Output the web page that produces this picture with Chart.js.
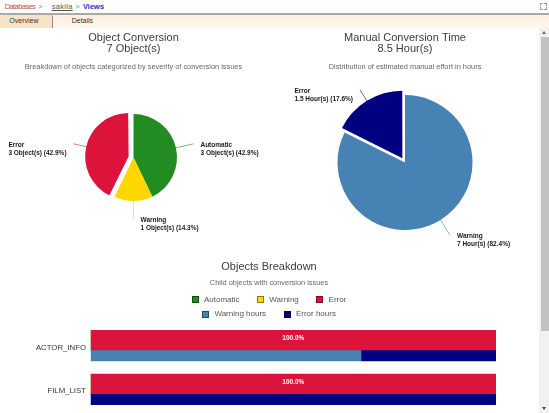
<!DOCTYPE html>
<html>
<head>
<meta charset="utf-8">
<script src="https://cdn.jsdelivr.net/npm/chart.js@4"></script>
<style>
html,body{margin:0;padding:0;width:549px;height:413px;overflow:hidden;background:#fff;font-family:"Liberation Sans",Arial,sans-serif;}
.abs{position:absolute;white-space:nowrap;}
.crumb{top:1.5px;font-size:7.5px;line-height:10px;}
#tline{left:0;top:13px;width:549px;height:2px;background:#a9a9a9;}
#tband{left:0;top:15px;width:549px;height:13px;background:linear-gradient(#fdeedd,#fef6ee);}
#tab1{left:0;top:15px;width:52px;height:13px;background:#f8e3c8;border-right:1px solid #8c8c8c;border-top-right-radius:3px;}
.tt{top:14.3px;height:13px;line-height:13px;font-size:7px;color:#333;}
canvas{position:absolute;}
#track{left:539px;top:28px;width:10px;height:385px;background:#f1f1f1;}
#thumb{left:540.5px;top:37px;width:8.5px;height:294px;background:#c1c1c1;}
.arrUp{left:542px;top:30.5px;width:0;height:0;border-left:2.5px solid transparent;border-right:2.5px solid transparent;border-bottom:3px solid #6a6a6a;}
.arrDn{left:542px;top:407px;width:0;height:0;border-left:2.5px solid transparent;border-right:2.5px solid transparent;border-top:3px solid #4a4a4a;}
.ic{width:2px;height:2px;border-color:#9a9a9a;border-style:solid;border-width:0;}
</style>
</head>
<body>
<div class="abs crumb" style="left:4.7px;color:#c0504d;letter-spacing:-0.6px">Databases</div>
<div class="abs crumb" style="left:38px;color:#888">&gt;</div>
<div class="abs crumb" style="left:51.7px;color:#555;text-decoration:underline;letter-spacing:0.3px">sakila</div>
<div class="abs crumb" style="left:75.5px;color:#888">&gt;</div>
<div class="abs crumb" style="left:83px;color:#2b2bd9;font-weight:bold">Views</div>
<div class="abs ic" style="left:540px;top:3px;border-left-width:1px;border-top-width:1px"></div>
<div class="abs ic" style="left:544px;top:3px;border-right-width:1px;border-top-width:1px"></div>
<div class="abs ic" style="left:540px;top:7px;border-left-width:1px;border-bottom-width:1px"></div>
<div class="abs ic" style="left:544px;top:7px;border-right-width:1px;border-bottom-width:1px"></div>
<div class="abs" id="tline"></div>
<div class="abs" id="tband"></div>
<div class="abs" id="tab1"></div>
<div class="abs tt" style="left:9.3px">Overview</div>
<div class="abs tt" style="left:71.7px">Details</div>

<canvas id="pieObj" width="269" height="227" style="left:0;top:28px;width:269px;height:227px"></canvas>
<canvas id="pieHrs" width="269" height="227" style="left:269px;top:28px;width:269px;height:227px"></canvas>
<canvas id="bars" width="538" height="170" style="left:0;top:255px;width:538px;height:170px"></canvas>

<div class="abs" id="track"></div>
<div class="abs" id="thumb"></div>
<div class="abs arrUp"></div>
<div class="abs arrDn"></div>

<script>
// ---------- data ----------
const objCategories = ['Automatic', 'Warning', 'Error'];
const objCounts = [3, 1, 3];
const hourCategories = ['Warning', 'Error'];
const hourValues = [7, 1.5];
const viewNames = ['ACTOR_INFO', 'FILM_LIST'];
const automaticPct = [0, 0];
const warningPct = [0, 0];
const errorPct = [100, 100];
const warningHoursPct = [66.7, 0];
const errorHoursPct = [33.3, 100];

// ---------- styles ----------
const C = {automatic:'#228B22', warning:'#FFD700', error:'#DC143C', warnH:'#4682B4', errH:'#000080'};
const FAMILY = '"Liberation Sans", Arial, sans-serif';
Chart.defaults.font.family = FAMILY;

function hexA(hex, a){
  const n = parseInt(hex.slice(1),16);
  return `rgba(${(n>>16)&255},${(n>>8)&255},${n&255},${a})`;
}

// keep exploded slices at the same radius as the others
const offsetRadiusFix = {
  id:'offsetRadiusFix',
  afterDatasetUpdate(chart, args){
    args.meta.data.forEach(arc => {
      const off = arc.options && arc.options.offset || 0;
      if (!off) return;
      const fix = 1 - Math.sin(Math.min(Math.PI, arc.circumference || 0));
      arc.outerRadius = arc.outerRadius - off/4*fix;
    });
  }
};

const calloutPlugin = {
  id:'callouts',
  afterDatasetsDraw(chart, args, opts){
    const ctx = chart.ctx;
    const meta = chart.getDatasetMeta(0);
    const ds = chart.data.datasets[0];
    const total = ds.data.reduce((a,b)=>a+b,0);
    const R = meta.controller.outerRadius;
    ctx.save();
    ctx.font = 'bold 6.5px ' + FAMILY;
    ctx.textBaseline = 'middle';
    ctx.textAlign = 'left';
    meta.data.forEach((arc, i) => {
      const v = ds.data[i];
      if (!v) return;
      const mid = (arc.startAngle + arc.endAngle)/2;
      const off = (arc.options.offset || 0)/4;
      const cs = Math.cos(mid), sn = Math.sin(mid);
      const x0 = arc.x + cs*(R+off), y0 = arc.y + sn*(R+off);
      const x1 = arc.x + cs*(R+opts.ext), y1 = arc.y + sn*(R+opts.ext);
      ctx.strokeStyle = hexA(ds.backgroundColor[i], 0.6);
      ctx.lineWidth = 1;
      ctx.beginPath(); ctx.moveTo(x0,y0); ctx.lineTo(x1,y1); ctx.stroke();
      const lines = [chart.data.labels[i], `${v} ${opts.unit} (${(v/total*100).toFixed(1)}%)`];
      const w = Math.max(...lines.map(t=>ctx.measureText(t).width));
      const right = cs >= -1e-6;
      const tx = right ? x1 + 7 : x1 - 7 - w;
      ctx.fillStyle = '#1a1a1a';
      lines.forEach((t, k) => ctx.fillText(t, tx, y1 + 1.5 + k*7.8));
    });
    ctx.restore();
  }
};

function pie(id, labels, values, colors, offsets, title, subtitle, unit, radius, padding){
  const total = values.reduce((a,b)=>a+b,0);
  return new Chart(document.getElementById(id), {
    type:'pie',
    data:{labels, datasets:[{data:values, backgroundColor:colors, borderWidth:0, offset:offsets, hoverOffset:0, radius}]},
    options:{
      responsive:false, animation:false, events:[],
      layout:{padding},
      plugins:{
        legend:{display:false}, tooltip:{enabled:false},
        title:{display:true, text:[title, `${total} ${unit}`], color:'#3c3c3c', font:{size:11, lineHeight:'11px', weight:'normal'}, padding:{top:4.8, bottom:0}},
        subtitle:{display:true, text:subtitle, color:'#666', font:{size:7.4, lineHeight:'8px'}, padding:{top:8.5, bottom:0}},
        callouts:{unit, ext:18}
      }
    },
    plugins:[offsetRadiusFix, calloutPlugin]
  });
}

pie('pieObj', objCategories, objCounts, [C.automatic, C.warning, C.error], [0,0,20],
    'Object Conversion', 'Breakdown of objects categorized by severity of conversion issues', 'Object(s)', 43.5,
    {left:0, right:2, top:0, bottom:11.3});
pie('pieHrs', hourCategories, hourValues, [C.warnH, C.errH], [0,20],
    'Manual Conversion Time', 'Distribution of estimated manual effort in hours', 'Hour(s)', 67.5,
    {left:3, right:0, top:0, bottom:1.3});

// ---------- bar chart ----------
const legendRows = {
  id:'legendRows',
  afterDraw(chart){
    const ctx = chart.ctx;
    const ds = chart.data.datasets;
    const stacks = [...new Set(ds.map(d=>d.stack))];
    const cx = chart.width/2;
    const rowYs = [chart.chartArea.top - 28.75, chart.chartArea.top - 14.05];
    ctx.save();
    ctx.font = '8px ' + FAMILY;
    ctx.textBaseline = 'middle'; ctx.textAlign = 'left';
    stacks.forEach((st, r) => {
      const items = ds.filter(d=>d.stack===st);
      const widths = items.map(d => 12.3 + ctx.measureText(d.label).width);
      const total = widths.reduce((a,b)=>a+b,0) + 17.5*(items.length-1);
      let x = cx - total/2;
      const y = rowYs[r];
      items.forEach((d,i)=>{
        const bx = Math.round(x), by = Math.round(y-3.5);
        ctx.fillStyle = d.backgroundColor; ctx.fillRect(bx, by, 7, 7);
        ctx.strokeStyle = 'rgba(0,0,0,0.45)'; ctx.lineWidth = 1; ctx.strokeRect(bx+0.5, by+0.5, 6, 6);
        ctx.fillStyle = '#555'; ctx.fillText(d.label, x+12.3, y);
        x += widths[i] + 17.5;
      });
    });
    ctx.restore();
  }
};

const barValues = {
  id:'barValues',
  afterDatasetsDraw(chart){
    const ctx = chart.ctx;
    ctx.save();
    ctx.font = 'bold 6.5px ' + FAMILY;
    ctx.fillStyle = '#fff';
    ctx.textAlign = 'center'; ctx.textBaseline = 'middle';
    chart.data.datasets.forEach((d, di) => {
      if (d.stack !== 'objects') return;
      chart.getDatasetMeta(di).data.forEach((bar, i) => {
        const v = d.data[i];
        if (!v) return;
        ctx.fillText(v.toFixed(1) + '%', (bar.x + bar.base)/2, bar.y - 1.5);
      });
    });
    ctx.restore();
  }
};

new Chart(document.getElementById('bars'), {
  type:'bar',
  data:{
    labels: viewNames,
    datasets:[
      {label:'Automatic', data:automaticPct, backgroundColor:C.automatic, stack:'objects', barThickness:19.7},
      {label:'Warning', data:warningPct, backgroundColor:C.warning, stack:'objects', barThickness:19.7},
      {label:'Error', data:errorPct, backgroundColor:C.error, stack:'objects', barThickness:19.7},
      {label:'Warning hours', data:warningHoursPct, backgroundColor:C.warnH, stack:'hours', barThickness:11},
      {label:'Error hours', data:errorHoursPct, backgroundColor:C.errH, stack:'hours', barThickness:11}
    ]
  },
  options:{
    indexAxis:'y', responsive:false, animation:false, events:[],
    layout:{padding:{left:0, right:0, top:0, bottom:6.35}},
    scales:{
      x:{display:false, stacked:true, min:0, max:100},
      y:{grid:{display:false, drawTicks:false}, border:{display:false},
         ticks:{color:'#333', font:{size:7.8}, padding:4.7, labelOffset:-2.5},
         afterFit(s){ s.width = 90.7; }},
      yRight:{type:'category', position:'right', grid:{display:false, drawTicks:false}, border:{display:false},
         ticks:{display:false}, afterFit(s){ s.width = 42; }}
    },
    plugins:{
      legend:{display:false}, tooltip:{enabled:false},
      title:{display:true, text:'Objects Breakdown', color:'#3c3c3c', font:{size:11, lineHeight:'11px', weight:'normal'}, padding:{top:6.2, bottom:0}},
      subtitle:{display:true, text:'Child objects with conversion issues', color:'#666', font:{size:7.4, lineHeight:'8px'}, padding:{top:7.1, bottom:40.75}}
    }
  },
  plugins:[legendRows, barValues]
});
</script>
</body>
</html>
